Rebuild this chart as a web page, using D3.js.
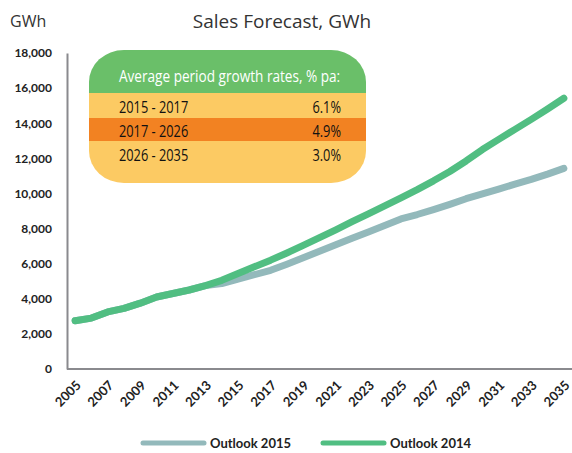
<!DOCTYPE html>
<html>
<head>
<meta charset="utf-8">
<script src="https://cdn.jsdelivr.net/npm/d3@7"></script>
<style>
  body { margin: 0; background: #fff; }
  svg { display: block; }
</style>
</head>
<body>
<div id="chart"></div>
<script>
var years = d3.range(2005, 2036);
var outlook2015 = [2750, 2900, 3250, 3450, 3750, 4100, 4300, 4500, 4750, 4870, 5120, 5370, 5620, 5970, 6340, 6710, 7080, 7450, 7810, 8170, 8550, 8800, 9080, 9380, 9700, 9980, 10250, 10530, 10800, 11100, 11430];
var outlook2014 = [2750, 2900, 3250, 3450, 3750, 4100, 4300, 4500, 4750, 5050, 5440, 5820, 6200, 6610, 7040, 7480, 7930, 8390, 8840, 9290, 9750, 10220, 10720, 11250, 11850, 12500, 13080, 13650, 14220, 14810, 15420];
var seriesNames = ["Outlook 2015", "Outlook 2014"];
var seriesColors = ["#93b9bb", "#51be82"];
var yTicks = [0, 2000, 4000, 6000, 8000, 10000, 12000, 14000, 16000, 18000];
var xTickYears = d3.range(2005, 2036, 2);
var rateHeader = "Average period growth rates, % pa:";
var ratePeriods = ["2015 - 2017", "2017 - 2026", "2026 - 2035"];
var rateValues = ["6.1%", "4.9%", "3.0%"];

var width = 572, height = 453;
var margin = {top: 53, right: 0, bottom: 84, left: 67};

var svg = d3.select("#chart").append("svg")
  .attr("width", width)
  .attr("height", height);

var x = d3.scalePoint()
  .domain(years)
  .range([margin.left, width - margin.right])
  .padding(0.5);

var y = d3.scaleLinear()
  .domain([0, 18000])
  .range([height - margin.bottom, margin.top]);

// title + unit
svg.append("text")
  .attr("x", 282).attr("y", 28)
  .attr("text-anchor", "middle")
  .attr("font-family", "Open Sans, sans-serif")
  .attr("font-size", 19)
  .attr("fill", "#333")
  .text("Sales Forecast, GWh");

svg.append("text")
  .attr("x", 10).attr("y", 27)
  .attr("font-family", "Open Sans, sans-serif")
  .attr("font-size", 16)
  .attr("fill", "#333")
  .text("GWh");

// y axis
var yAxis = svg.append("g")
  .attr("transform", `translate(${margin.left},0)`)
  .call(d3.axisLeft(y).tickValues(yTicks).tickSize(0).tickPadding(15).tickFormat(d3.format(",")));
yAxis.select(".domain").attr("stroke", "#8a8a8e").attr("stroke-width", 2);
yAxis.selectAll("text")
  .attr("font-family", "Lato, sans-serif")
  .attr("font-weight", 700)
  .attr("font-size", 12)
  .attr("fill", "#222");

// x axis
var xAxis = svg.append("g")
  .attr("transform", `translate(0,${height - margin.bottom})`)
  .call(d3.axisBottom(x).tickValues(xTickYears).tickSize(0).tickSizeOuter(0));
xAxis.select(".domain")
  .attr("d", `M${margin.left},0H${width}`)
  .attr("stroke", "#8a8a8e").attr("stroke-width", 2);
xAxis.selectAll("text")
  .attr("font-family", "Lato, sans-serif")
  .attr("font-weight", 700)
  .attr("font-size", 13)
  .attr("fill", "#222")
  .attr("text-anchor", "end")
  .attr("dy", null)
  .attr("transform", "translate(4,15) rotate(-45)");

// lines
var line = d3.line()
  .x((d, i) => x(years[i]))
  .y(d => y(d));

[outlook2015, outlook2014].forEach(function(s, i){
  svg.append("path")
    .datum(s)
    .attr("fill", "none")
    .attr("stroke", seriesColors[i])
    .attr("stroke-width", 7)
    .attr("stroke-linejoin", "round")
    .attr("stroke-linecap", "round")
    .attr("d", line);
});

// growth rate box
var bx = 89, by = 50, bw = 277;
var rowTops = [50, 93, 118, 141, 183];
var rowColors = ["#6abf69", "#fcca63", "#f28222", "#fcca63"];

svg.append("clipPath").attr("id", "boxclip")
  .append("rect")
  .attr("x", bx).attr("y", by)
  .attr("width", bw).attr("height", rowTops[4] - by)
  .attr("rx", 35).attr("ry", 32);

var box = svg.append("g").attr("clip-path", "url(#boxclip)");
rowColors.forEach(function(c, i){
  box.append("rect")
    .attr("x", bx).attr("y", rowTops[i])
    .attr("width", bw).attr("height", rowTops[i + 1] - rowTops[i])
    .attr("fill", c);
});

function condensed(tx, ty, txt, size, fill, anchor){
  svg.append("text")
    .attr("transform", `translate(${tx},${ty}) scale(0.8,1)`)
    .attr("text-anchor", anchor)
    .attr("font-family", "Open Sans, sans-serif")
    .attr("font-size", size)
    .attr("fill", fill)
    .text(txt);
}

condensed(119, 82, rateHeader, 17, "#fff", "start");
var rowBase = [113, 137, 161];
ratePeriods.forEach(function(p, i){
  condensed(119, rowBase[i], p, 16, "#111", "start");
  condensed(341, rowBase[i], rateValues[i], 16, "#111", "end");
});

// legend
var legendX = [143, 323];
seriesNames.forEach(function(n, i){
  var g = svg.append("g").attr("transform", `translate(${legendX[i]},443)`);
  g.append("line")
    .attr("x1", 0).attr("x2", 61)
    .attr("stroke", seriesColors[i])
    .attr("stroke-width", 5)
    .attr("stroke-linecap", "round");
  g.append("text")
    .attr("x", 67).attr("y", 4.5)
    .attr("font-family", "Lato, sans-serif")
    .attr("font-weight", 700)
    .attr("font-size", 13)
    .attr("fill", "#222")
    .text(n);
});
</script>
</body>
</html>
